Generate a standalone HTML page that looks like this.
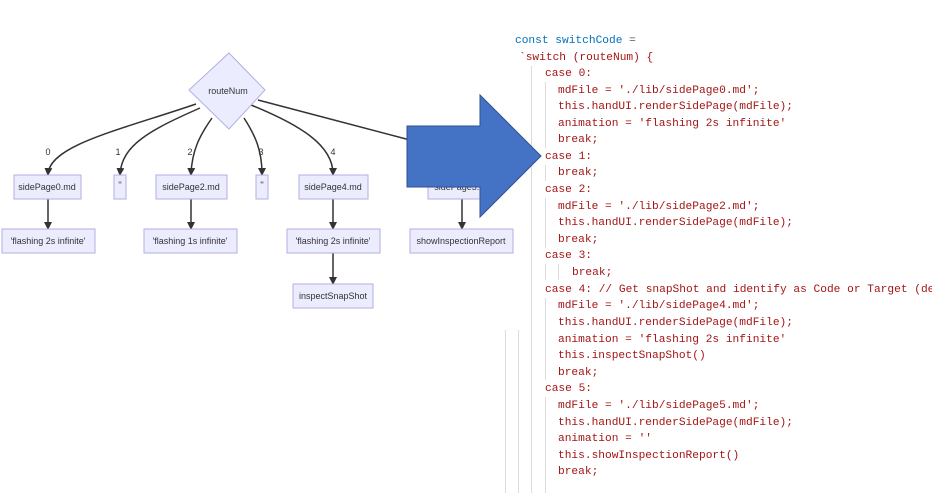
<!DOCTYPE html>
<html><head><meta charset="utf-8"><style>
html,body{margin:0;padding:0;background:#fff;}
body{width:932px;height:493px;position:relative;overflow:hidden;}
.code{position:absolute;left:0;top:0;font-family:"Liberation Mono",monospace;font-size:11.2px;color:#a31515;white-space:pre;}
.code div{position:absolute;line-height:16px;}
.g{position:absolute;width:1px;background:#dcdcdc;}
</style></head><body>
<svg width="932" height="493" style="position:absolute;left:0;top:0">
<defs><marker id="a" markerWidth="8" markerHeight="8" refX="6" refY="4" orient="auto" markerUnits="userSpaceOnUse"><path d="M0,0 L8,4 L0,8 z" fill="#333"/></marker></defs>
<g fill="none" stroke="#333" stroke-width="1.5">
<path d="M196,104 C120,130 50,145 48,174" marker-end="url(#a)"/>
<path d="M200,108 C150,130 122,145 120,174" marker-end="url(#a)"/>
<path d="M212,118 C200,135 192,150 191,174" marker-end="url(#a)"/>
<path d="M244,118 C255,135 262,150 262,174" marker-end="url(#a)"/>
<path d="M251,105 C300,125 333,145 333,174" marker-end="url(#a)"/>
<path d="M258,100 L410,140"/>
<path d="M48,199 L48,228" marker-end="url(#a)"/>
<path d="M191,199 L191,228" marker-end="url(#a)"/>
<path d="M333,199 L333,228" marker-end="url(#a)"/>
<path d="M333,253 L333,283" marker-end="url(#a)"/>
<path d="M462,199 L462,228" marker-end="url(#a)"/>
</g>
<g font-family="Liberation Sans,sans-serif" font-size="9" fill="#333" text-anchor="middle">
<text x="48" y="155">0</text><text x="118" y="155">1</text><text x="190" y="155">2</text><text x="261" y="155">3</text><text x="333" y="155">4</text>
</g>
<g fill="#ececff" stroke="#b4aee0" stroke-width="1">
<polygon points="229,53 265,90 229,129 189,90"/>
<rect x="14" y="175" width="67" height="24"/>
<rect x="114" y="175" width="12" height="24"/>
<rect x="156" y="175" width="71" height="24"/>
<rect x="256" y="175" width="12" height="24"/>
<rect x="299" y="175" width="69" height="24"/>
<rect x="428" y="175" width="70" height="24"/>
<rect x="2" y="229" width="93" height="24"/>
<rect x="144" y="229" width="93" height="24"/>
<rect x="287" y="229" width="93" height="24"/>
<rect x="410" y="229" width="103" height="24"/>
<rect x="293" y="284" width="80" height="24"/>
</g>
<g font-family="Liberation Sans,sans-serif" font-size="9" fill="#333" text-anchor="middle">
<text x="228" y="94">routeNum</text>
<text x="47" y="190">sidePage0.md</text><text x="120" y="188">''</text>
<text x="191" y="190">sidePage2.md</text><text x="262" y="188">''</text>
<text x="333" y="190">sidePage4.md</text><text x="463" y="190">sidePage5.md</text>
<text x="48" y="244">'flashing 2s infinite'</text>
<text x="190" y="244">'flashing 1s infinite'</text>
<text x="333" y="244">'flashing 2s infinite'</text>
<text x="461" y="244">showInspectionReport</text>
<text x="333" y="299">inspectSnapShot</text>
</g>
</svg>
<div class="g" style="left:531px;top:66px;height:427px"></div>
<div class="g" style="left:545px;top:82px;height:66px"></div>
<div class="g" style="left:545px;top:165px;height:16px"></div>
<div class="g" style="left:545px;top:198px;height:50px"></div>
<div class="g" style="left:545px;top:264px;height:16px"></div>
<div class="g" style="left:558px;top:264px;height:16px"></div>
<div class="g" style="left:545px;top:298px;height:82px"></div>
<div class="g" style="left:545px;top:397px;height:96px"></div>
<div class="g" style="left:505px;top:330px;height:163px"></div>
<div class="g" style="left:518px;top:330px;height:163px"></div>
<div class="code">
<div style="left:515px;top:33px"><span style="color:#0070c1">const switchCode</span> <span style="color:#555">=</span></div>
<div style="left:519px;top:50px">`switch (routeNum) {</div>
<div style="left:545px;top:66px">case 0:</div>
<div style="left:558px;top:83px">mdFile = './lib/sidePage0.md';</div>
<div style="left:558px;top:99px">this.handUI.renderSidePage(mdFile);</div>
<div style="left:558px;top:116px">animation = 'flashing 2s infinite'</div>
<div style="left:558px;top:132px">break;</div>
<div style="left:545px;top:149px">case 1:</div>
<div style="left:558px;top:165px">break;</div>
<div style="left:545px;top:182px">case 2:</div>
<div style="left:558px;top:199px">mdFile = './lib/sidePage2.md';</div>
<div style="left:558px;top:215px">this.handUI.renderSidePage(mdFile);</div>
<div style="left:558px;top:232px">break;</div>
<div style="left:545px;top:248px">case 3:</div>
<div style="left:572px;top:265px">break;</div>
<div style="left:545px;top:282px">case 4: // Get snapShot and identify as Code or Target (de</div>
<div style="left:558px;top:298px">mdFile = './lib/sidePage4.md';</div>
<div style="left:558px;top:315px">this.handUI.renderSidePage(mdFile);</div>
<div style="left:558px;top:332px">animation = 'flashing 2s infinite'</div>
<div style="left:558px;top:348px">this.inspectSnapShot()</div>
<div style="left:558px;top:365px">break;</div>
<div style="left:545px;top:381px">case 5:</div>
<div style="left:558px;top:398px">mdFile = './lib/sidePage5.md';</div>
<div style="left:558px;top:415px">this.handUI.renderSidePage(mdFile);</div>
<div style="left:558px;top:431px">animation = ''</div>
<div style="left:558px;top:448px">this.showInspectionReport()</div>
<div style="left:558px;top:464px">break;</div>
</div>
<svg width="932" height="493" style="position:absolute;left:0;top:0">
<polygon points="407,126 480,126 480,95 541,156 480,217 480,187 407,187" fill="#4472c4" stroke="#2f528f" stroke-width="1"/>
</svg>
</body></html>
